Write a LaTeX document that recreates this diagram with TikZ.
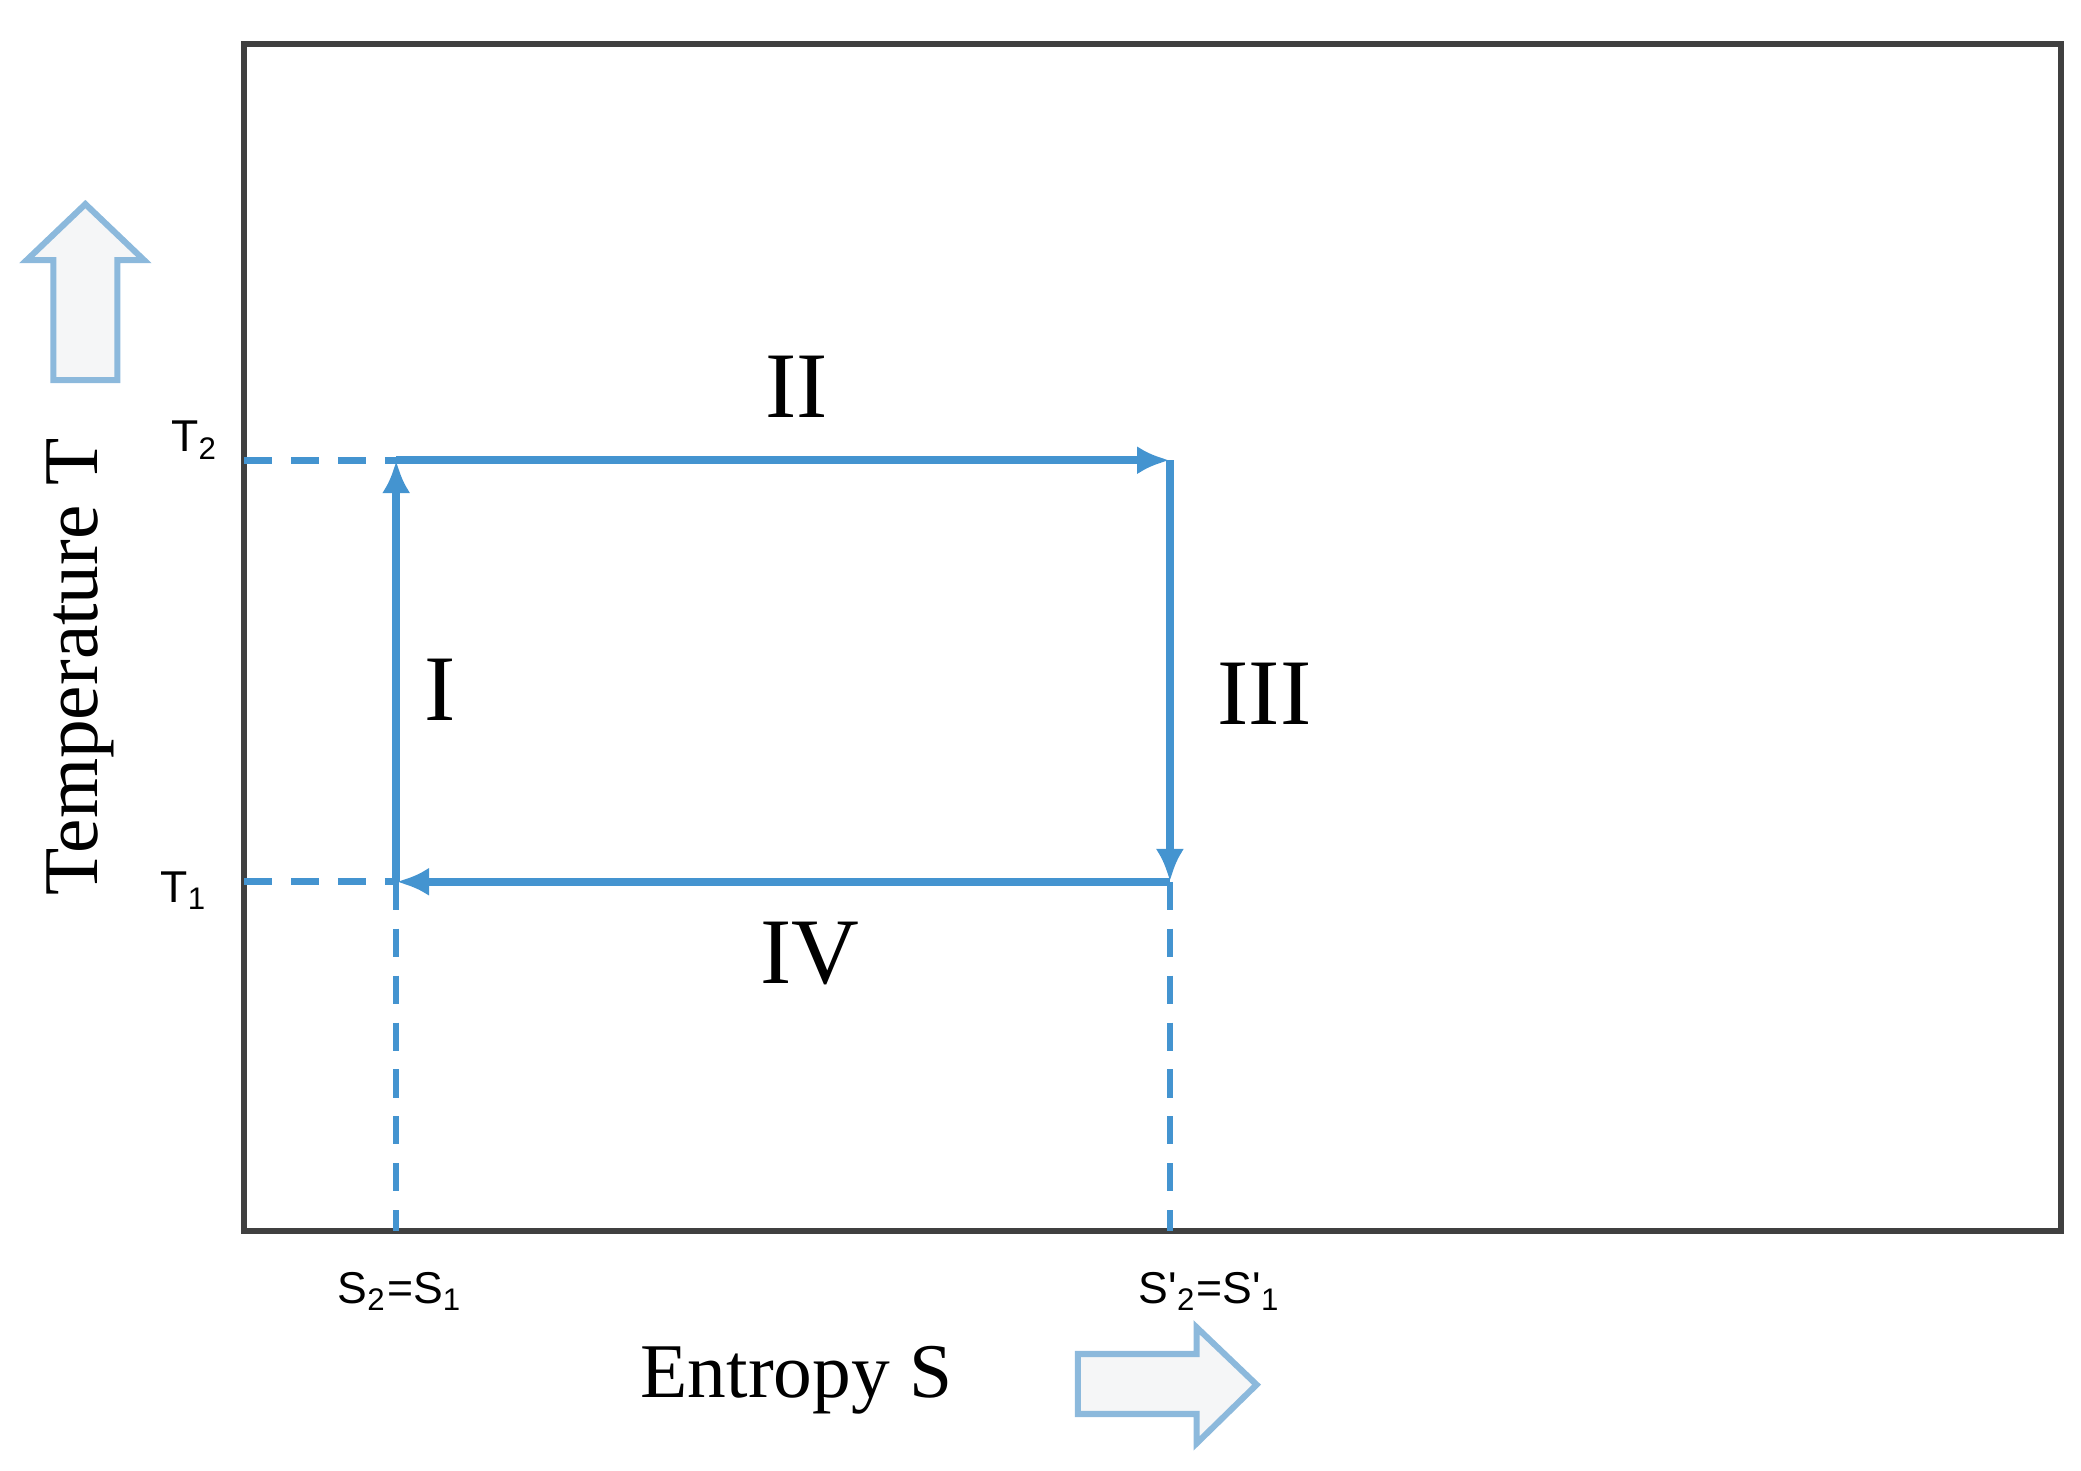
\documentclass[tikz,border=0pt]{standalone}
\usepackage{fontspec}
\setmainfont{Liberation Serif}
\newfontfamily\lsans{Liberation Sans}
\usetikzlibrary{arrows.meta}
\definecolor{cyc}{RGB}{68,148,208}
\definecolor{blk}{RGB}{245,246,247}
\definecolor{blkedge}{RGB}{140,185,220}
\tikzset{
  P/.style={x=0.01cm,y=-0.01cm},
  cycle line/.style={cyc,line width=1.6pt,-{Latex[length=7pt,width=6pt]}},
  guide/.style={cyc,line width=1.4pt,dash pattern=on 6pt off 4pt},
  roman/.style={font=\fontsize{20}{20}\selectfont},
  small/.style={font=\lsans\fontsize{9.5}{9.5}\selectfont},
  big/.style={font=\fontsize{16.5}{16.5}\selectfont},
  blockarrow/.style={fill=blk,draw=blkedge,line width=1.3pt,line join=miter}
}
\begin{document}
\begin{tikzpicture}[P]
\useasboundingbox (0,0) rectangle (1560,1102);
\draw[line width=1.2pt,black!75] (183,33) rectangle (1545,923);
\coordinate (A) at (297,661);
\coordinate (B) at (297,345);
\coordinate (C) at (877,345);
\coordinate (D) at (877,661);
\coordinate (T2) at (183,345);
\coordinate (T1) at (183,661);
\coordinate (SA) at (297,923);
\coordinate (SB) at (877,923);
\draw[guide] (T2) -- (B);
\draw[guide] (T1) -- (A);
\draw[guide] (A) -- (SA);
\draw[guide] (D) -- (SB);
\draw[cycle line] (A) -- (B);
\draw[cycle line] (B) -- (C);
\draw[cycle line] (C) -- (D);
\draw[cycle line] (D) -- (A);
\node[roman] (lII) at (597,290) {II};
\node[roman] (lI) at (330,517) {I};
\node[roman] (lIII) at (948,520) {III};
\node[roman] (lIV) at (607,715) {IV};
\node[small] (t2) at (146,330) {T\textsubscript{2}};
\node[small] (t1) at (138,668) {T\textsubscript{1}};
\node[small] (s1) at (300,968) {S\textsubscript{2}=S\textsubscript{1}};
\node[small] (s2) at (907,968) {S'\textsubscript{2}=S'\textsubscript{1}};
\node[big,rotate=90] (ty) at (60,500) {Temperature T};
\node[big] (ex) at (597,1035) {Entropy S};
\draw[blockarrow] (40,285) -- (40,195) -- (20,195) -- (64,153) -- (108,195) -- (88,195) -- (88,285) -- cycle;
\draw[blockarrow] (808,1015) -- (897,1015) -- (897,995) -- (942,1038) -- (897,1082) -- (897,1060) -- (808,1060) -- cycle;
\end{tikzpicture}
\end{document}
